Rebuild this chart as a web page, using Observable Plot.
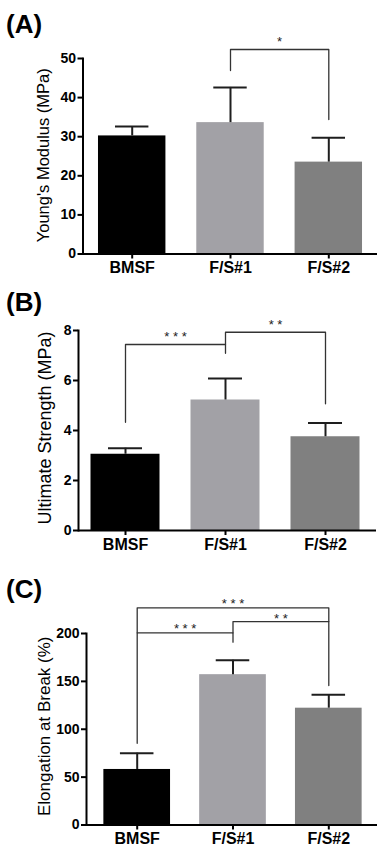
<!DOCTYPE html>
<html><head><meta charset="utf-8">
<script src="https://cdn.jsdelivr.net/npm/d3@7"></script>
<script src="https://cdn.jsdelivr.net/npm/@observablehq/plot@0.6"></script>
<style>
body{margin:0;background:#fff;font-family:"Liberation Sans",Arial,sans-serif;}
#root{position:relative;width:390px;height:855px;overflow:hidden;background:#fff;}
.panel{position:absolute;left:0;}
.tag{position:absolute;left:6px;font-weight:bold;font-size:26px;line-height:1;color:#000;}
</style></head><body><div id="root"></div>
<script>
// ---- data ----
const groups = ["BMSF", "F/S#1", "F/S#2"];

const youngMean  = [30.2, 33.6, 23.5];
const youngUpper = [32.6, 42.6, 29.7];
const youngTicks = [0, 10, 20, 30, 40, 50];
const youngBrackets = [
  {from: 1, to: 2, top: 52.3, fromEnd: 46.9, toEnd: 34.4, label: "*", labelY: 55.0}
];

const strengthMean  = [3.05, 5.22, 3.75];
const strengthUpper = [3.29, 6.08, 4.30];
const strengthTicks = [0, 2, 4, 6, 8];
const strengthBrackets = [
  {from: 0, to: 1, top: 7.44, fromEnd: 4.33, toEnd: 7.09, label: "* * *", labelY: 7.87},
  {from: 1, to: 2, top: 7.93, fromEnd: 7.44, toEnd: 5.07, label: "* *", labelY: 8.36}
];

const elongMean  = [58, 157, 122];
const elongUpper = [75, 172, 136];
const elongTicks = [0, 50, 100, 150, 200];
const elongBrackets = [
  {from: 0, to: 1, top: 200.7, fromEnd: 85.4, toEnd: 190.9, label: "* * *", labelY: 208.4},
  {from: 1, to: 2, top: 212.5, fromEnd: 200.7, toEnd: 145.7, label: "* *", labelY: 218.9},
  {from: 0, to: 2, top: 226.8, fromEnd: 200.7, toEnd: 212.5, label: "* * *", labelY: 233.7}
];

// ---- styles ----
const barColors = ["#000000", "#a2a1a6", "#808080"];
const font = "'Liberation Sans', Arial, sans-serif";

const panels = [
  {tag: "(A)", tagTop: 11, top: 0, height: 285, mt: 58, mb: 31.5, ml: 82.5, mr: 13,
   c0: 131.7, c2: 328.3, half: 0.343, cap: 0.17,
   mean: youngMean, upper: youngUpper, ticks: youngTicks, ymax: 50, brackets: youngBrackets,
   label: "Young's Modulus (MPa)", labelX: 43.5, labelDy: -1, labelSize: 16.5},
  {tag: "(B)", tagTop: 289, top: 285, height: 280, mt: 45, mb: 35, ml: 78, mr: 14,
   c0: 125, c2: 325, half: 0.345, cap: 0.17,
   mean: strengthMean, upper: strengthUpper, ticks: strengthTicks, ymax: 8, brackets: strengthBrackets,
   label: "Ultimate Strength (MPa)", labelX: 44.5, labelDy: -2.5, labelSize: 18},
  {tag: "(C)", tagTop: 576, top: 565, height: 290, mt: 68, mb: 30.5, ml: 86, mr: 13,
   c0: 136.7, c2: 328.3, half: 0.348, cap: 0.175,
   mean: elongMean, upper: elongUpper, ticks: elongTicks, ymax: 200, brackets: elongBrackets,
   label: "Elongation at Break (%)", labelX: 44.5, labelDy: -3, labelSize: 17}
];

const root = document.getElementById("root");

for (const p of panels) {
  const data = groups.map((g, i) => ({i, g, mean: p.mean[i], upper: p.upper[i]}));
  const pts = p.brackets.flatMap((b, k) => [
    {k, x: b.from, y: b.fromEnd}, {k, x: b.from, y: b.top},
    {k, x: b.to, y: b.top}, {k, x: b.to, y: b.toEnd}
  ]);
  const chart = Plot.plot({
    width: 390, height: p.height,
    marginTop: p.mt, marginBottom: p.mb, marginLeft: p.ml, marginRight: p.mr,
    style: {fontFamily: font, background: "transparent", overflow: "visible", color: "#000"},
    x: {domain: [0, 2], range: [p.c0, p.c2]},
    y: {domain: [0, p.ymax]},
    color: {domain: groups, range: barColors},
    marks: [
      Plot.rectY(data, {x1: d => d.i - p.half, x2: d => d.i + p.half, y1: 0, y2: "mean", fill: "g"}),
      Plot.ruleX(data, {x: "i", y1: "mean", y2: "upper", stroke: "#1e1e1e", strokeWidth: 2}),
      Plot.ruleY(data, {y: "upper", x1: d => d.i - p.cap, x2: d => d.i + p.cap, stroke: "#1e1e1e", strokeWidth: 2}),
      Plot.line(pts, {x: "x", y: "y", z: "k", stroke: "#333", strokeWidth: 1.3}),
      Plot.text(p.brackets, {x: b => (b.from + b.to) / 2, y: "labelY", text: "label", fontSize: 13, fill: "#222", dy: 3}),
      Plot.axisX({ticks: [0, 1, 2], tickFormat: i => groups[i], fontSize: 16, fontWeight: "bold",
                  tickSize: 5, tickPadding: 3, strokeWidth: 2, label: null}),
      Plot.axisY({ticks: p.ticks, fontSize: 14, fontWeight: "bold", tickSize: 5, tickPadding: 2,
                  strokeWidth: 2, label: null}),
      Plot.ruleY([0], {stroke: "#000", strokeWidth: 2}),
      Plot.frame({anchor: "left", stroke: "#000", strokeWidth: 2}),
      Plot.text([p.label], {frameAnchor: "left", rotate: -90, dx: p.labelX - p.ml, dy: p.labelDy,
                            textAnchor: "middle", lineAnchor: "middle", fontSize: p.labelSize, fill: "#000"})
    ]
  });
  chart.classList.add("panel");
  chart.style.top = p.top + "px";
  root.appendChild(chart);
  const tag = document.createElement("div");
  tag.className = "tag";
  tag.style.top = p.tagTop + "px";
  tag.textContent = p.tag;
  root.appendChild(tag);
}
</script></body></html>
